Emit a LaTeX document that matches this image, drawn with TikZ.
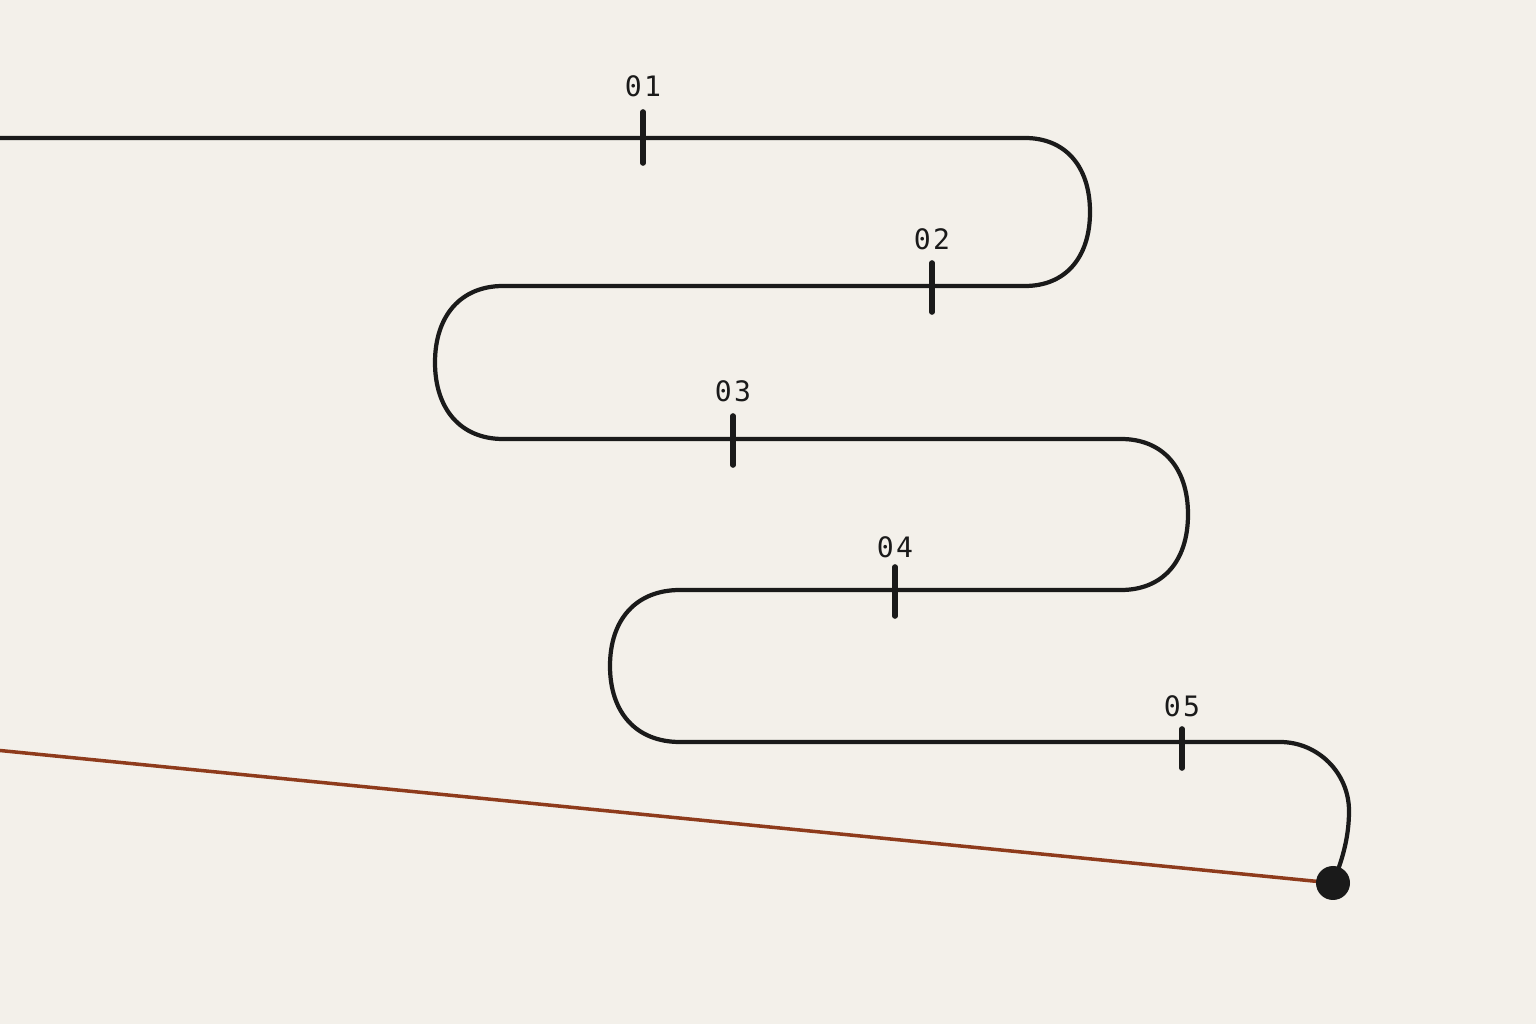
\documentclass[tikz,border=0pt]{standalone}
\usepackage{fontspec}
\newfontfamily\digitfont[LetterSpace=8]{DejaVu Sans Mono}
\usepackage{tikz}
\usetikzlibrary{arrows}
\definecolor{paper}{HTML}{F3F0EA}
\definecolor{ink}{HTML}{1A1A1A}
\definecolor{rust}{HTML}{8E3B1C}

\begin{document}
\begin{tikzpicture}[x=0.01cm,y=0.01cm,line cap=round]
  \fill[paper] (0,0) rectangle (1536,1024);
  \useasboundingbox (0,0) rectangle (1536,1024);

  % route points
  \coordinate (start) at (0,886);
  \coordinate (r1) at (1025,886);
  \coordinate (l1) at (503,738);
  \coordinate (r2) at (1121,585);
  \coordinate (l2) at (680,434);
  \coordinate (r3) at (1280,282);
  \coordinate (low) at (0,273.5);
  \coordinate (stop) at (1333,141);

  % the slope
  \draw[rust,line width=1pt] (low) -- (stop);

  % the route
  \draw[ink,line width=1.2pt,line cap=butt] (start) -- (r1)
      .. controls (1065,886) and (1090,858) .. (1090,812)
      .. controls (1090,766) and (1065,738) .. (1025,738) -- (l1)
      .. controls (461,738) and (435,708.5) .. (435,661.5)
      .. controls (435,614.5) and (461,585) .. (503,585) -- (r2)
      .. controls (1162.5,585) and (1188,556.5) .. (1188,509.5)
      .. controls (1188,462.5) and (1162.5,434) .. (1121,434) -- (l2)
      .. controls (636.5,434) and (610,405) .. (610,358)
      .. controls (610,311) and (636.5,282) .. (680,282) -- (r3)
      .. controls (1318,282) and (1349,251) .. (1349,213)
      .. controls (1349,190) and (1344,168) .. (stop);
  \fill[ink] (stop) circle[radius=17];

  % milestones
  \coordinate (t1a) at (643,912); \coordinate (t1b) at (643,861);
  \coordinate (t2a) at (932,761); \coordinate (t2b) at (932,712);
  \coordinate (t3a) at (733,608); \coordinate (t3b) at (733,559);
  \coordinate (t4a) at (895,457); \coordinate (t4b) at (895,408);
  \coordinate (t5a) at (1182,295); \coordinate (t5b) at (1182,256);
  \foreach \t in {1,...,5}
    \draw[ink,line width=1.6pt] (t\t a) -- (t\t b);

  \draw (643,938) node[ink] (01) {\digitfont\fontsize{8}{8}\selectfont 01};
  \draw (932,785) node[ink] (02) {\digitfont\fontsize{8}{8}\selectfont 02};
  \draw (733,633) node[ink] (03) {\digitfont\fontsize{8}{8}\selectfont 03};
  \draw (895,477) node[ink] (04) {\digitfont\fontsize{8}{8}\selectfont 04};
  \draw (1182,318) node[ink] (05) {\digitfont\fontsize{8}{8}\selectfont 05};

\end{tikzpicture}
\end{document}
